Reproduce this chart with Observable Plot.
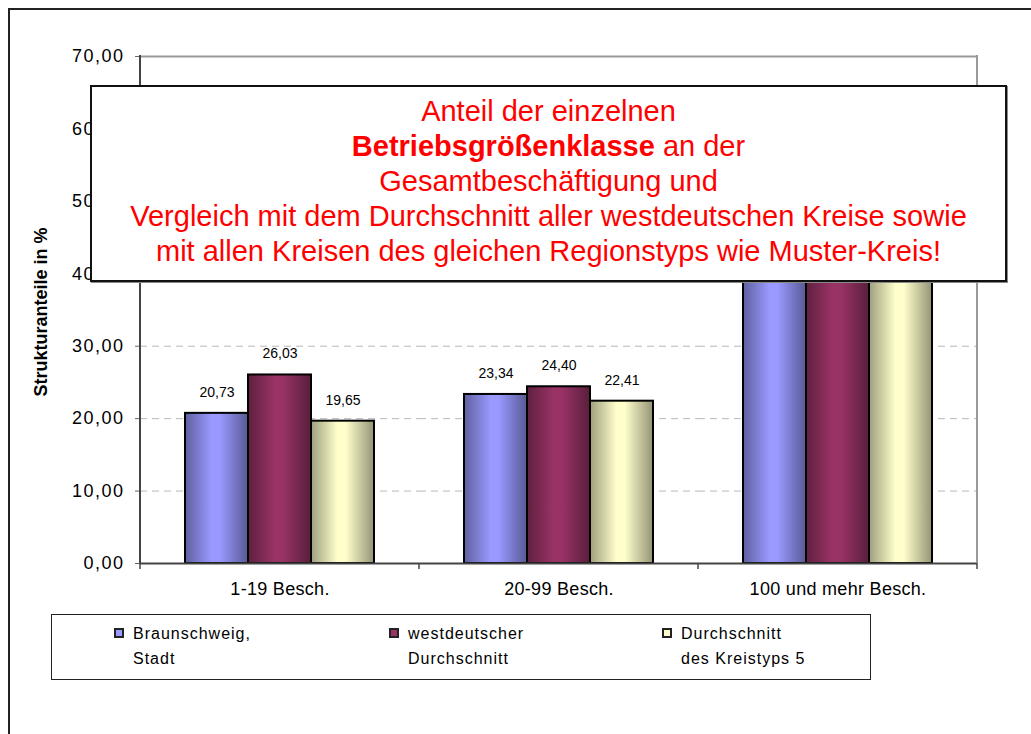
<!DOCTYPE html>
<html><head><meta charset="utf-8">
<script src="https://cdn.jsdelivr.net/npm/d3@7"></script>
<script src="https://cdn.jsdelivr.net/npm/@observablehq/plot@0.6"></script>
<style>
body{margin:0;background:#fff;font-family:"Liberation Sans",Arial,sans-serif;}
#wrap{position:relative;width:1031px;height:734px;overflow:hidden;background:#fff;}
#outer{position:absolute;left:8px;top:8px;width:1060px;height:760px;border:2px solid #222;box-sizing:border-box;}
#chart{position:absolute;left:0;top:0;}
#chart svg [aria-label="y-axis tick label"] text{letter-spacing:1.5px;}
#chart svg [aria-label="fx-axis tick label"] text{letter-spacing:0.3px;}
#ytitle{position:absolute;left:40.5px;top:312px;transform:translate(-50%,-50%) rotate(-90deg);font-weight:bold;font-size:18px;white-space:nowrap;color:#000;}
#note{position:absolute;left:90px;top:85px;width:917px;height:197px;box-sizing:border-box;border:2px solid #111;background:#fff;color:#ff0000;font-size:29px;line-height:35px;text-align:center;padding-top:7px;box-shadow:1px 1px 0 #888;white-space:nowrap;}
#legend{position:absolute;left:51px;top:614px;width:820px;height:66px;box-sizing:border-box;border:1.5px solid #222;background:#fff;}
.item{position:absolute;top:0;font-size:16px;letter-spacing:1px;line-height:25px;color:#000;}
.sw{position:absolute;width:10px;height:10px;box-sizing:border-box;border:2px solid #222;}
</style>
</head><body>
<div id="wrap">
  <div id="outer"></div>
  <div id="chart"></div>
  <div id="ytitle">Strukturanteile in %</div>
  <div id="note">Anteil der einzelnen<br><b>Betriebsgrößenklasse</b> an der<br>Gesamtbeschäftigung und<br>Vergleich mit dem Durchschnitt aller westdeutschen Kreise sowie<br>mit allen Kreisen des gleichen Regionstyps wie Muster-Kreis!</div>
  <div id="legend"></div>
</div>
<script>
const categories = ["1-19 Besch.", "20-99 Besch.", "100 und mehr Besch."];
const series = ["Braunschweig, Stadt", "westdeutscher Durchschnitt", "Durchschnitt des Kreistyps 5"];
const legendLines = [["Braunschweig,", "Stadt"], ["westdeutscher", "Durchschnitt"], ["Durchschnitt", "des Kreistyps 5"]];
const braunschweig = [20.73, 23.34, 55.93];
const westdeutsch = [26.03, 24.40, 49.57];
const kreistyp5 = [19.65, 22.41, 57.94];
const yTicks = [0, 10, 20, 30, 40, 50, 60, 70];
const baseColors = ["#9999ff", "#993366", "#ffffcc"];

const seriesValues = [braunschweig, westdeutsch, kreistyp5];
const data = [];
categories.forEach((c, ci) => series.forEach((s, si) => data.push({category: c, series: s, value: seriesValues[si][ci]})));
const fmt = v => v.toFixed(2).replace(".", ",");

const chart = Plot.plot({
  width: 1031, height: 610,
  marginLeft: 140, marginRight: 54, marginTop: 56, marginBottom: 47,
  style: {fontFamily: "'Liberation Sans', Arial, sans-serif", fontSize: "18px", color: "#000", background: "transparent", overflow: "visible"},
  fx: {domain: categories, padding: 0, label: null},
  x: {domain: series, paddingInner: 0, paddingOuter: 0.714, axis: null},
  y: {domain: [0, 70], label: null},
  color: {domain: series, range: series.map((_, i) => `url(#grad${i})`)},
  marks: [
    Plot.ruleY(yTicks.filter(t => t > 0 && t < 70), {stroke: "#b8b8b8", strokeWidth: 1, strokeDasharray: "7,5"}),
    Plot.ruleY([70], {stroke: "#999", strokeWidth: 2}),
    Plot.barY(data, {fx: "category", x: "series", y: "value", fill: "series", stroke: "#000", strokeWidth: 2}),
    Plot.text(data, {fx: "category", x: "series", y: "value", text: d => fmt(d.value), dy: -21, fontSize: 14, fill: "#000"}),
    Plot.ruleY([0], {stroke: "#444", strokeWidth: 2}),
    Plot.axisY({ticks: yTicks, tickFormat: fmt, tickSize: 5, tickPadding: 11, label: null, stroke: "#666"}),
    Plot.axisFx({anchor: "bottom", tickSize: 0, tickPadding: 19, label: null})
  ]
});
document.getElementById("chart").appendChild(chart);

const svg = d3.select(chart.tagName.toLowerCase() === "svg" ? chart : chart.querySelector("svg"));
const defs = svg.insert("defs", ":first-child");
baseColors.forEach((c, i) => {
  const g = defs.append("linearGradient").attr("id", `grad${i}`).attr("x1", "0").attr("x2", "1").attr("y1", "0").attr("y2", "0");
  const dark = k => d3.interpolateRgb(c, "#000")(k);
  [[0, dark(0.38)], [0.42, c], [0.55, c], [1, dark(0.42)]].forEach(([o, col]) =>
    g.append("stop").attr("offset", o).attr("stop-color", col));
});

// structural lines drawn from Plot's own scales
const fxs = chart.scale("fx"), ys = chart.scale("y");
const fxBand = d3.scaleBand().domain(fxs.domain).range(fxs.range).padding(0);
const bounds = categories.map(c => fxBand(c)).concat([fxBand(categories[categories.length - 1]) + fxBand.bandwidth()]);
const y0 = ys.apply(0), y70 = ys.apply(70);
const g = svg.append("g");
g.append("line").attr("x1", bounds[bounds.length - 1]).attr("x2", bounds[bounds.length - 1]).attr("y1", y70 - 1).attr("y2", y0).attr("stroke", "#999").attr("stroke-width", 2);
g.append("line").attr("x1", bounds[0]).attr("x2", bounds[0]).attr("y1", y70 - 1).attr("y2", y0 + 1).attr("stroke", "#444").attr("stroke-width", 2);
bounds.forEach(b => g.append("line").attr("x1", b).attr("x2", b).attr("y1", y0).attr("y2", y0 + 6).attr("stroke", "#444").attr("stroke-width", 1.5));

// legend
const legend = document.getElementById("legend");
const itemX = [62, 337, 610];
legendLines.forEach((lines, i) => {
  const sw = document.createElement("div");
  sw.className = "sw";
  sw.style.left = itemX[i] + "px";
  sw.style.top = "13px";
  sw.style.background = baseColors[i];
  legend.appendChild(sw);
  const it = document.createElement("div");
  it.className = "item";
  it.style.left = (itemX[i] + 19) + "px";
  it.style.top = "6px";
  it.innerHTML = lines.join("<br>");
  legend.appendChild(it);
});
</script>
</body></html>
